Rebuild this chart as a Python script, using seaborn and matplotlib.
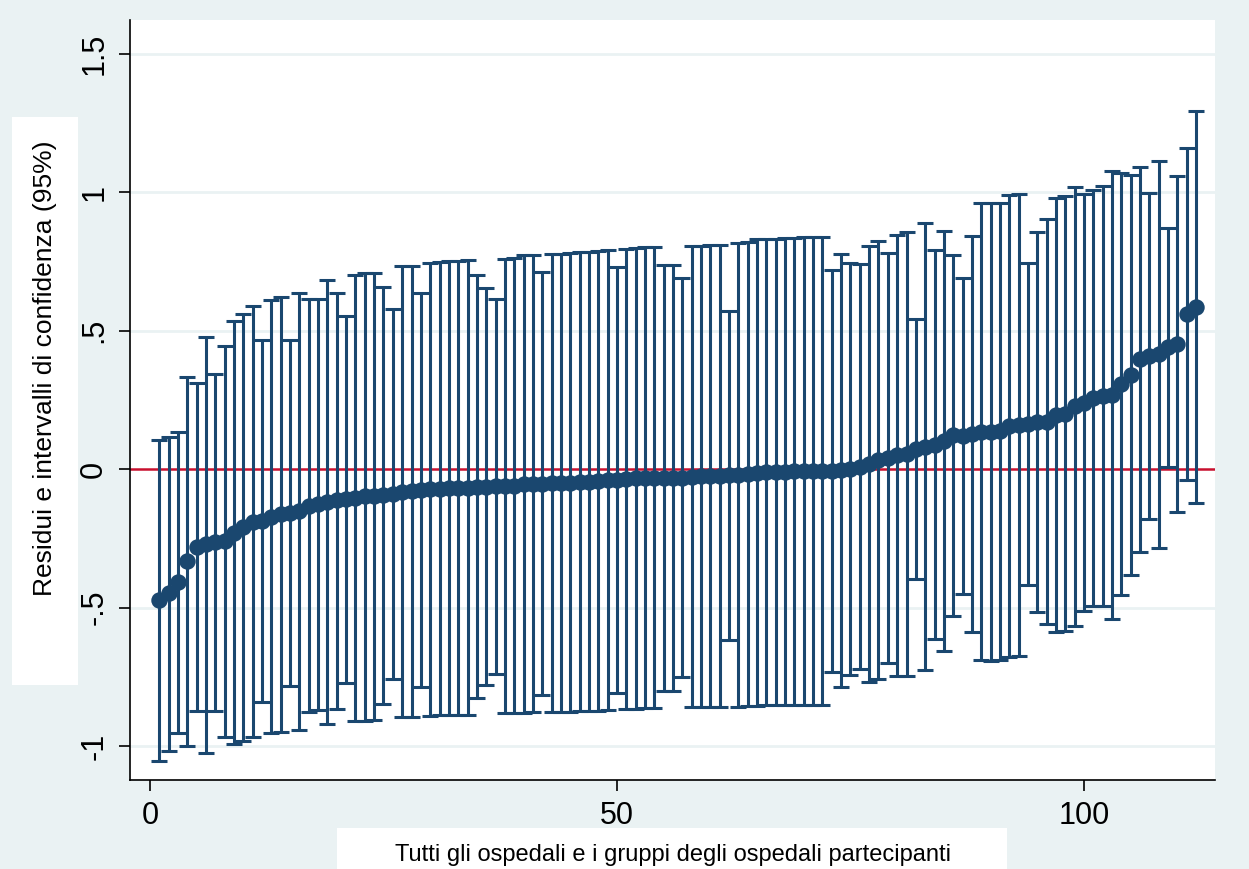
import numpy as np
import pandas as pd
import matplotlib
matplotlib.use("Agg")
import matplotlib.pyplot as plt
from matplotlib.patches import Rectangle
import seaborn as sns

# residuals (sorted) and 95% confidence bounds, one per hospital / group
residui = [
    -0.473, -0.449, -0.409, -0.332, -0.280, -0.270, -0.264, -0.260, -0.231, -0.209,
    -0.190, -0.186, -0.172, -0.163, -0.158, -0.151, -0.134, -0.128, -0.118, -0.112,
    -0.107, -0.103, -0.099, -0.096, -0.094, -0.091, -0.082, -0.080, -0.076, -0.073,
    -0.071, -0.069, -0.068, -0.067, -0.064, -0.064, -0.063, -0.062, -0.060, -0.055,
    -0.053, -0.053, -0.051, -0.051, -0.049, -0.047, -0.046, -0.043, -0.041, -0.040,
    -0.036, -0.033, -0.032, -0.032, -0.032, -0.031, -0.032, -0.028, -0.027, -0.027,
    -0.026, -0.023, -0.021, -0.018, -0.014, -0.011, -0.011, -0.010, -0.008, -0.008,
    -0.008, -0.007, -0.007, -0.005, 0.001, 0.008, 0.019, 0.033, 0.039, 0.049,
    0.054, 0.073, 0.081, 0.088, 0.101, 0.121, 0.120, 0.126, 0.134, 0.135,
    0.136, 0.154, 0.159, 0.163, 0.170, 0.171, 0.194, 0.200, 0.227, 0.240,
    0.257, 0.265, 0.268, 0.308, 0.339, 0.397, 0.408, 0.414, 0.439, 0.452,
    0.560, 0.584,
]
limite_sup = [
    0.105, 0.114, 0.132, 0.333, 0.309, 0.478, 0.343, 0.445, 0.534, 0.558,
    0.590, 0.466, 0.610, 0.622, 0.466, 0.637, 0.613, 0.613, 0.681, 0.634,
    0.552, 0.700, 0.709, 0.706, 0.658, 0.576, 0.733, 0.733, 0.637, 0.745,
    0.747, 0.750, 0.752, 0.753, 0.700, 0.652, 0.614, 0.757, 0.762, 0.771,
    0.772, 0.711, 0.775, 0.776, 0.780, 0.782, 0.783, 0.788, 0.789, 0.730,
    0.795, 0.799, 0.800, 0.800, 0.738, 0.738, 0.688, 0.806, 0.806, 0.807,
    0.808, 0.572, 0.815, 0.821, 0.829, 0.831, 0.831, 0.834, 0.835, 0.836,
    0.837, 0.837, 0.720, 0.776, 0.745, 0.739, 0.805, 0.824, 0.779, 0.845,
    0.854, 0.542, 0.887, 0.791, 0.859, 0.773, 0.691, 0.841, 0.959, 0.961,
    0.961, 0.988, 0.993, 0.743, 0.856, 0.901, 0.977, 0.986, 1.019, 0.992,
    1.007, 1.022, 1.077, 1.070, 1.061, 1.091, 0.995, 1.113, 0.869, 1.058,
    1.159, 1.292,
]
limite_inf = [
    -1.053, -1.017, -0.952, -0.999, -0.874, -1.024, -0.874, -0.969, -0.994, -0.981,
    -0.969, -0.840, -0.954, -0.948, -0.782, -0.942, -0.878, -0.870, -0.921, -0.865,
    -0.771, -0.910, -0.910, -0.906, -0.848, -0.759, -0.895, -0.895, -0.788, -0.890,
    -0.888, -0.888, -0.888, -0.888, -0.826, -0.780, -0.740, -0.882, -0.882, -0.880,
    -0.878, -0.817, -0.876, -0.878, -0.877, -0.875, -0.874, -0.873, -0.870, -0.810,
    -0.866, -0.865, -0.864, -0.863, -0.801, -0.801, -0.752, -0.860, -0.860, -0.860,
    -0.860, -0.617, -0.858, -0.856, -0.855, -0.853, -0.853, -0.852, -0.851, -0.851,
    -0.851, -0.851, -0.734, -0.786, -0.744, -0.722, -0.768, -0.759, -0.702, -0.747,
    -0.747, -0.397, -0.726, -0.615, -0.657, -0.531, -0.451, -0.590, -0.690, -0.692,
    -0.690, -0.680, -0.675, -0.418, -0.517, -0.560, -0.590, -0.585, -0.566, -0.513,
    -0.493, -0.493, -0.542, -0.455, -0.383, -0.298, -0.179, -0.286, 0.008, -0.154,
    -0.040, -0.124,
]
y_ticks = [-1, -0.5, 0, 0.5, 1, 1.5]
y_ticklabels = ["-1", "-.5", "0", ".5", "1", "1.5"]
x_ticks = [0, 50, 100]

df = pd.DataFrame({"rank": np.arange(1, len(residui) + 1),
                   "res": residui, "lo": limite_inf, "hi": limite_sup})

navy = "#1A476F"
bg = "#EAF2F3"

sns.set_style("white")
plt.rcParams["font.family"] = ["Liberation Sans", "DejaVu Sans"]

W, H = 1249, 869
fig = plt.figure(figsize=(W / 100, H / 100), dpi=100, facecolor=bg)

# white boxes behind the axis titles
fig.patches.append(Rectangle((12 / W, 1 - 685 / H), 66 / W, 568 / H,
                             transform=fig.transFigure, facecolor="white",
                             edgecolor="none", zorder=0))
fig.patches.append(Rectangle((337 / W, 0), 670 / W, 41 / H,
                             transform=fig.transFigure, facecolor="white",
                             edgecolor="none", zorder=0))

ax = fig.add_axes([130 / W, 1 - 780 / H, 1085 / W, 760 / H])
ax.set_facecolor("white")

for t in y_ticks:
    if t != 0:
        ax.axhline(t, color=bg, lw=2, zorder=0)
ax.axhline(0, color="#C8102E", lw=1.8, zorder=1)

ax.errorbar(df["rank"], df["res"],
            yerr=[df["res"] - df["lo"], df["hi"] - df["res"]],
            fmt="none", ecolor=navy, elinewidth=2.2, capsize=5.8,
            capthick=2.2, zorder=2)
sns.scatterplot(data=df, x="rank", y="res", ax=ax, color=navy, s=140,
                edgecolor=navy, linewidth=0, zorder=3, legend=False)

ax.set_xlim(-2.14, 114.03)
ax.set_ylim(-1.1227, 1.621)
ax.set_xticks(x_ticks)
ax.set_xticklabels([str(x) for x in x_ticks], fontsize=22, color="black")
ax.set_yticks(y_ticks)
ax.set_yticklabels(y_ticklabels, fontsize=22, rotation=90, va="center",
                   color="black")
ax.tick_params(axis="both", direction="out", length=8, width=1.2,
               color="black", pad=7, left=True, bottom=True)
ax.set_xlabel("")
ax.set_ylabel("")
for s in ["top", "right"]:
    ax.spines[s].set_visible(False)
for s in ["left", "bottom"]:
    ax.spines[s].set_color("black")
    ax.spines[s].set_linewidth(1.2)

fig.text(45 / W, 1 - 368 / H, "Residui e intervalli di confidenza (95%)",
         rotation=90, ha="center", va="center", fontsize=19, color="black")
fig.text(673 / W, 1 - 855 / H, "Tutti gli ospedali e i gruppi degli ospedali partecipanti",
         ha="center", va="center", fontsize=17, color="black")

fig.savefig("out.png", dpi=100, facecolor=bg)
